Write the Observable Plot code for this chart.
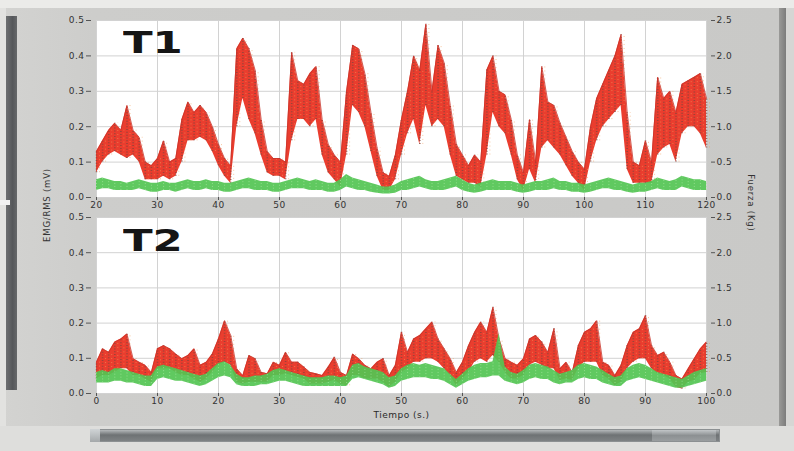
<!DOCTYPE html>
<html>
<head>
<meta charset="utf-8">
<script src="https://cdn.jsdelivr.net/npm/d3@7"></script>
<script src="https://cdn.jsdelivr.net/npm/@observablehq/plot@0.6"></script>
<style>
  html, body { margin: 0; padding: 0; background: #ebebe9; }
  #wrap { position: relative; width: 794px; height: 451px; overflow: hidden; background: #ebebe9; }
  .deco { position: absolute; }
  .chart { position: absolute; left: 0; width: 794px; }
  .big { position: absolute; font-family: "DejaVu Sans", sans-serif; font-weight: bold; font-size: 31px; line-height: 32px; color: #151515; transform: scaleX(1.4); transform-origin: left top; white-space: nowrap; }
  .vt { position: absolute; font-family: "DejaVu Sans", sans-serif; font-size: 8.5px; letter-spacing: 0.8px; color: #333; white-space: nowrap; }
</style>
</head>
<body>
<div id="wrap">
  <div class="deco" style="left:0;top:8px;width:779px;height:418px;background:linear-gradient(90deg,#d3d3d1 0%,#cdcdcb 12%,#c9c9c7 100%);"></div>
  <div class="deco" style="left:0;top:8px;width:6px;height:418px;background:#e2e2e0;"></div>
  <div class="deco" style="left:6px;top:16px;width:11px;height:374px;background:linear-gradient(90deg,#6d6f71,#55575a 60%,#66686a);"></div>
  <div class="deco" style="left:0;top:200px;width:10px;height:5px;background:#f2f2f2;"></div>
  <div class="deco" style="left:779px;top:8px;width:7px;height:420px;background:linear-gradient(90deg,#9a9a98,#7c7c7c);"></div>
  <div class="deco" style="left:786px;top:8px;width:8px;height:420px;background:#d6d6d4;"></div>
  <div class="deco" style="left:0;top:426px;width:794px;height:25px;background:#dededc;"></div>
  <div class="deco" style="left:90px;top:429px;width:630px;height:13px;box-sizing:border-box;border:1px solid #8c9092;background:linear-gradient(#b4b8ba,#6e7274 45%,#7e8284);"></div>
  <div class="deco" style="left:90px;top:429px;width:10px;height:13px;background:linear-gradient(#d0d4d6,#a4a8aa);"></div>
  <div class="deco" style="left:652px;top:430px;width:64px;height:11px;background:linear-gradient(#c2c6c8,#8c9092 50%,#9a9ea0);"></div>

  <div id="c1" class="chart" style="top:0;"></div>
  <div id="c2" class="chart" style="top:200px;"></div>

  <div class="big" style="left:123px;top:26px;">T1</div>
  <div class="big" style="left:123px;top:224px;">T2</div>
  <div class="vt" style="left:47px;top:205px;transform:translate(-50%,-50%) rotate(-90deg);">EMG/RMS (mV)</div>
  <div class="vt" style="left:751px;top:203px;transform:translate(-50%,-50%) rotate(90deg);">Fuerza (Kg)</div>
</div>
<script>
// ---- tick labels ----
const yTicks = [0, 0.1, 0.2, 0.3, 0.4, 0.5];
const emgLabels = ["0.0", "0.1", "0.2", "0.3", "0.4", "0.5"];
const fuerzaLabels = ["0.0", "0.5", "1.0", "1.5", "2.0", "2.5"];
const t1Ticks = [20, 30, 40, 50, 60, 70, 80, 90, 100, 110, 120];
const t2Ticks = [0, 10, 20, 30, 40, 50, 60, 70, 80, 90, 100];
const xTitle = "Tiempo (s.)";

// ---- T1 (t = 20 .. 120 s, one sample per second) ----
const t1Start = 20;
const t1RedHi = [0.13,0.16,0.19,0.21,0.19,0.26,0.19,0.17,0.10,0.09,
  0.11,0.16,0.10,0.11,0.22,0.27,0.24,0.26,0.24,0.20,
  0.15,0.11,0.09,0.42,0.45,0.42,0.36,0.22,0.13,0.11,
  0.11,0.10,0.41,0.33,0.32,0.35,0.37,0.22,0.15,0.12,
  0.10,0.30,0.43,0.42,0.35,0.24,0.14,0.07,0.06,0.12,
  0.22,0.30,0.40,0.36,0.49,0.30,0.43,0.38,0.26,0.15,
  0.12,0.09,0.12,0.10,0.36,0.40,0.30,0.29,0.22,0.12,
  0.07,0.22,0.10,0.37,0.27,0.26,0.21,0.17,0.13,0.10,
  0.08,0.20,0.28,0.32,0.36,0.40,0.46,0.24,0.10,0.09,
  0.16,0.10,0.34,0.28,0.30,0.24,0.32,0.33,0.34,0.35,
  0.28];
const t1RedLo = [0.07,0.10,0.12,0.13,0.12,0.11,0.12,0.10,0.05,0.05,
  0.05,0.06,0.05,0.06,0.10,0.16,0.16,0.17,0.16,0.13,
  0.09,0.06,0.04,0.20,0.28,0.22,0.18,0.12,0.07,0.06,
  0.06,0.05,0.16,0.22,0.22,0.20,0.22,0.12,0.07,0.05,
  0.03,0.12,0.26,0.24,0.20,0.13,0.06,0.02,0.02,0.05,
  0.12,0.18,0.22,0.15,0.26,0.20,0.22,0.20,0.12,0.06,
  0.05,0.04,0.04,0.03,0.12,0.24,0.20,0.18,0.12,0.05,
  0.02,0.08,0.04,0.14,0.16,0.14,0.12,0.09,0.06,0.04,
  0.02,0.10,0.16,0.20,0.22,0.24,0.26,0.08,0.04,0.04,
  0.04,0.04,0.12,0.14,0.15,0.10,0.18,0.20,0.20,0.18,
  0.14];
const t1GreenHi = [0.05,0.055,0.05,0.045,0.045,0.04,0.045,0.05,0.045,0.04,
  0.04,0.045,0.04,0.04,0.045,0.05,0.045,0.045,0.05,0.045,
  0.045,0.04,0.04,0.045,0.05,0.055,0.05,0.045,0.045,0.04,
  0.04,0.045,0.05,0.055,0.05,0.045,0.05,0.045,0.04,0.04,
  0.05,0.065,0.055,0.05,0.045,0.04,0.035,0.03,0.03,0.035,
  0.045,0.05,0.055,0.06,0.05,0.045,0.045,0.05,0.055,0.06,
  0.05,0.04,0.035,0.04,0.045,0.05,0.045,0.045,0.045,0.04,
  0.035,0.04,0.045,0.045,0.05,0.055,0.045,0.045,0.04,0.04,
  0.035,0.04,0.045,0.05,0.055,0.05,0.045,0.04,0.035,0.04,
  0.04,0.045,0.055,0.05,0.045,0.05,0.06,0.055,0.05,0.05,
  0.045];
const t1GreenLo = [0.02,0.025,0.025,0.02,0.02,0.02,0.02,0.025,0.02,0.015,
  0.015,0.02,0.02,0.015,0.02,0.025,0.02,0.02,0.025,0.02,
  0.02,0.015,0.015,0.02,0.025,0.025,0.02,0.02,0.02,0.015,
  0.015,0.02,0.025,0.025,0.025,0.02,0.02,0.02,0.015,0.015,
  0.02,0.03,0.025,0.02,0.02,0.015,0.012,0.01,0.01,0.012,
  0.02,0.02,0.025,0.03,0.025,0.02,0.02,0.02,0.025,0.03,
  0.02,0.015,0.012,0.015,0.02,0.02,0.02,0.02,0.02,0.015,
  0.012,0.015,0.02,0.02,0.02,0.025,0.02,0.02,0.015,0.015,
  0.012,0.015,0.02,0.025,0.025,0.02,0.02,0.015,0.012,0.015,
  0.015,0.02,0.025,0.02,0.02,0.02,0.03,0.025,0.02,0.02,
  0.02];

// ---- T2 (t = 0 .. 100 s, one sample per second) ----
const t2Start = 0;
const t2RedHi = [0.089,0.127,0.117,0.146,0.155,0.169,0.099,0.089,0.080,0.060,
  0.127,0.136,0.127,0.112,0.099,0.108,0.127,0.080,0.089,0.112,
  0.155,0.207,0.165,0.070,0.051,0.108,0.099,0.060,0.056,0.089,
  0.080,0.117,0.089,0.089,0.075,0.060,0.056,0.051,0.075,0.103,
  0.060,0.051,0.112,0.099,0.080,0.070,0.089,0.099,0.051,0.080,
  0.174,0.117,0.155,0.165,0.184,0.203,0.155,0.127,0.099,0.060,
  0.089,0.136,0.174,0.203,0.174,0.245,0.155,0.099,0.089,0.080,
  0.099,0.155,0.165,0.146,0.117,0.184,0.070,0.089,0.060,0.136,
  0.174,0.184,0.207,0.089,0.080,0.051,0.080,0.136,0.174,0.184,
  0.221,0.136,0.108,0.117,0.089,0.051,0.041,0.070,0.099,0.127,
  0.146];
const t2RedLo = [0.041,0.051,0.051,0.060,0.070,0.070,0.051,0.051,0.041,0.032,
  0.070,0.070,0.070,0.060,0.051,0.051,0.041,0.032,0.041,0.060,
  0.080,0.089,0.080,0.032,0.027,0.032,0.032,0.032,0.032,0.051,
  0.051,0.056,0.051,0.046,0.041,0.027,0.027,0.027,0.032,0.037,
  0.027,0.022,0.051,0.051,0.041,0.041,0.041,0.032,0.018,0.032,
  0.060,0.070,0.089,0.089,0.099,0.099,0.089,0.070,0.051,0.022,
  0.041,0.060,0.089,0.099,0.089,0.108,0.089,0.060,0.041,0.041,
  0.051,0.080,0.089,0.080,0.070,0.070,0.037,0.041,0.037,0.070,
  0.089,0.089,0.089,0.051,0.041,0.022,0.032,0.070,0.089,0.099,
  0.099,0.070,0.056,0.051,0.041,0.018,0.013,0.032,0.037,0.056,
  0.060];
const t2GreenHi = [0.06,0.065,0.06,0.07,0.07,0.065,0.06,0.055,0.05,0.05,
  0.075,0.08,0.075,0.07,0.065,0.06,0.055,0.05,0.055,0.07,
  0.085,0.09,0.08,0.055,0.045,0.045,0.05,0.05,0.055,0.065,
  0.07,0.065,0.06,0.055,0.05,0.045,0.045,0.045,0.05,0.05,
  0.045,0.05,0.08,0.085,0.075,0.07,0.065,0.06,0.045,0.05,
  0.07,0.08,0.085,0.08,0.085,0.08,0.075,0.07,0.055,0.04,
  0.055,0.07,0.08,0.085,0.085,0.09,0.17,0.075,0.06,0.055,
  0.065,0.08,0.085,0.08,0.075,0.065,0.055,0.06,0.065,0.08,
  0.085,0.08,0.075,0.065,0.055,0.045,0.05,0.07,0.08,0.085,
  0.08,0.07,0.06,0.055,0.05,0.045,0.04,0.05,0.06,0.065,
  0.07];
const t2GreenLo = [0.03,0.03,0.03,0.035,0.035,0.03,0.03,0.025,0.02,0.02,
  0.04,0.045,0.04,0.035,0.035,0.03,0.025,0.02,0.025,0.035,
  0.045,0.05,0.045,0.025,0.02,0.02,0.02,0.025,0.025,0.03,
  0.035,0.035,0.03,0.025,0.02,0.02,0.02,0.02,0.02,0.02,
  0.02,0.02,0.04,0.045,0.04,0.035,0.03,0.025,0.015,0.02,
  0.035,0.04,0.045,0.045,0.045,0.04,0.04,0.035,0.025,0.015,
  0.025,0.035,0.04,0.045,0.045,0.05,0.05,0.035,0.03,0.025,
  0.03,0.04,0.045,0.04,0.04,0.03,0.025,0.03,0.03,0.04,
  0.045,0.04,0.04,0.03,0.025,0.02,0.02,0.035,0.04,0.045,
  0.04,0.035,0.03,0.025,0.02,0.015,0.015,0.02,0.025,0.03,
  0.035];

function band(start, hi, lo) {
  return hi.map((h, i) => ({t: start + i, hi: h, lo: lo[i]}));
}

function panel(opts) {
  const red = band(opts.start, opts.redHi, opts.redLo);
  const green = band(opts.start, opts.greenHi, opts.greenLo);
  const marks = [
    Plot.frame({fill: "white", stroke: "none"}),
    Plot.gridX({ticks: opts.xTicks, stroke: "#d2d2d2", strokeOpacity: 1}),
    Plot.gridY({ticks: yTicks, stroke: "#d2d2d2", strokeOpacity: 1}),
    Plot.areaY(red, {x: "t", y1: "lo", y2: "hi", fill: "#ea3d2e"}),
    Plot.ruleX(red, {x: "t", y1: "lo", y2: "hi", stroke: "#86463c", strokeWidth: 1.6, strokeDasharray: "1,1.8", strokeOpacity: 0.8}),
    Plot.ruleX(red, {x: "t", y1: "lo", y2: "hi", dx: 3, stroke: "#f0a060", strokeWidth: 1, strokeDasharray: "1,3", strokeOpacity: 0.6}),
    Plot.line(red, {x: "t", y: "hi", stroke: "#c8342a", strokeWidth: 0.8}),
    Plot.areaY(green, {x: "t", y1: "lo", y2: "hi", fill: "#52c452", fillOpacity: 0.92}),
    Plot.ruleX(green, {x: "t", y1: "lo", y2: "hi", stroke: "#a8e8a0", strokeWidth: 1, strokeDasharray: "1,2", strokeOpacity: 0.7}),
    Plot.axisY({ticks: yTicks, anchor: "left", tickFormat: (d, i) => emgLabels[i], tickSize: 5, tickPadding: 2, dx: -5, label: null, stroke: "#555"}),
    Plot.axisY({ticks: yTicks, anchor: "right", tickFormat: (d, i) => fuerzaLabels[i], tickSize: 4, tickPadding: 2, dx: 4, label: null, stroke: "#555"}),
    Plot.axisX({ticks: opts.xTicks, tickSize: 3, tickPadding: 1, label: null, stroke: "#555"})
  ];
  if (opts.title) {
    marks.push(Plot.text([opts.title], {frameAnchor: "bottom", dy: 24, text: d => d, fontSize: 9, fill: "#2a2a2a"}));
  }
  return Plot.plot({
    width: 794,
    height: opts.height,
    marginLeft: 96,
    marginRight: 88,
    marginTop: opts.marginTop,
    marginBottom: opts.marginBottom,
    style: {background: "transparent", overflow: "visible", fontFamily: "DejaVu Sans, sans-serif", fontSize: "9px", color: "#333", letterSpacing: "0.5px"},
    x: {domain: [opts.start, opts.start + 100]},
    y: {domain: [0, 0.5]},
    marks
  });
}

document.getElementById("c1").append(panel({
  start: t1Start, redHi: t1RedHi, redLo: t1RedLo, greenHi: t1GreenHi, greenLo: t1GreenLo,
  xTicks: t1Ticks, height: 215, marginTop: 20, marginBottom: 18
}));
document.getElementById("c2").append(panel({
  start: t2Start, redHi: t2RedHi, redLo: t2RedLo, greenHi: t2GreenHi, greenLo: t2GreenLo,
  xTicks: t2Ticks, height: 228, marginTop: 17, marginBottom: 35, title: xTitle
}));
</script>
</body>
</html>
